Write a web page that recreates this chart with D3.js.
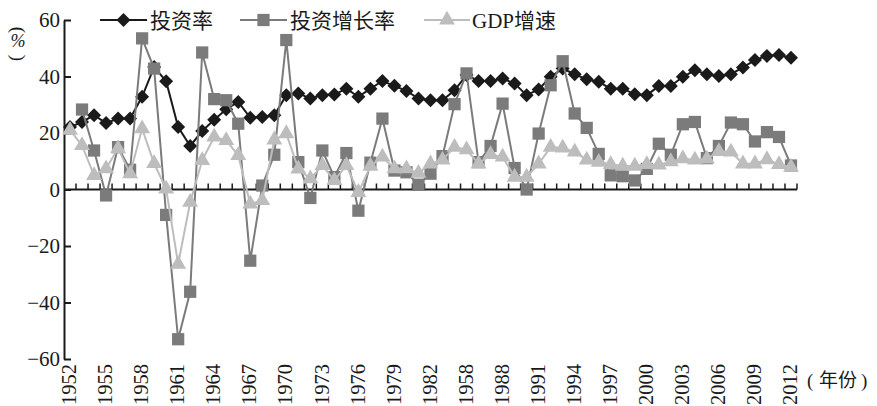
<!DOCTYPE html>
<html>
<head>
<meta charset="utf-8">
<script src="https://cdn.jsdelivr.net/npm/d3@7"></script>
<style>
  html, body { margin: 0; padding: 0; background: #fff; overflow: hidden; }
  svg { display: block; }
  svg text { font-family: "Liberation Serif", "Noto Sans CJK SC", serif; fill: #1a1a1a; }
</style>
</head>
<body>
<div id="chart"></div>
<script>
const YEARS = d3.range(1952, 2013)

// 投资率
const INVEST_RATE = [
  22.1, 23.9, 26.3, 23.5, 25.1, 25.1, 32.8, 43.4, 38.3, 22.1,
  15.4, 20.7, 24.7, 28.4, 31.0, 25.4, 25.7, 26.3, 33.4, 34.0,
  32.2, 33.4, 33.6, 35.7, 32.8, 35.7, 38.4, 36.7, 34.9, 32.2,
  31.6, 31.6, 35.1, 40.5, 38.4, 38.4, 39.3, 37.5, 33.4, 35.4,
  39.9, 42.8, 40.8, 39.0, 38.1, 35.7, 35.7, 33.7, 33.4, 36.6,
  36.6, 39.9, 42.2, 40.8, 40.2, 40.8, 43.2, 45.8, 47.3, 47.6,
  46.6,
]

// 投资增长率 (no value for 1952)
const INVEST_GROWTH = [
  null, 28.3, 13.8, -2.1, 15.0, 7.0, 53.5, 42.8, -9.0, -53.0,
  -36.2, 48.5, 32.0, 31.6, 23.3, -25.2, 1.4, 12.3, 52.9, 9.7,
  -3.0, 13.8, 4.4, 12.9, -7.5, 9.5, 25.1, 6.7, 6.1, 1.7,
  5.6, 11.8, 30.2, 41.1, 9.7, 15.4, 30.4, 7.6, 0.0, 19.8,
  36.9, 45.4, 26.9, 21.8, 12.6, 5.0, 4.7, 3.2, 7.3, 16.2,
  12.3, 23.1, 23.9, 11.1, 15.4, 23.7, 23.1, 17.0, 20.3, 18.6,
  8.5,
]

// GDP增速
const GDP_GROWTH = [
  21.0, 15.6, 5.0, 7.4, 14.5, 5.6, 21.5, 9.2, 0.2, -26.4,
  -4.5, 10.3, 18.6, 17.4, 12.1, -5.1, -3.9, 17.6, 19.8, 7.3,
  3.8, 8.5, 3.2, 8.5, -1.0, 8.3, 11.5, 7.4, 7.4, 5.8,
  9.1, 10.5, 15.0, 14.1, 9.1, 12.4, 11.5, 4.4, 4.4, 9.1,
  15.0, 14.7, 13.3, 10.5, 9.7, 8.9, 8.3, 8.3, 8.9, 8.7,
  9.9, 10.9, 10.5, 10.8, 13.5, 13.3, 9.1, 9.1, 10.6, 8.9,
  7.9,
]

const Y_TICKS = [-60, -40, -20, 0, 20, 40, 60]
const X_LABEL_YEARS = d3.range(1952, 2013, 3)
// the source prints 1958 where 1985 should be
const X_LABELS = X_LABEL_YEARS.map((y) => (y === 1985 ? '1958' : String(y)))

const BLACK = '#1a1a1a'
const DARK = '#7b7b7b'
const LIGHT = '#bdbdbd'

const width = 877
const height = 406
const svg = d3.select('#chart').append('svg')
  .attr('width', width)
  .attr('height', height)

const x = d3.scaleBand().domain(YEARS).range([64, 797])
const y = d3.scaleLinear().domain([-60, 60]).range([359, 20])
const cx = (d) => x(d) + x.bandwidth() / 2

// y axis, ticks point inward
const yAxis = svg.append('g')
  .attr('transform', 'translate(64,0)')
  .call(d3.axisRight(y).tickValues(Y_TICKS).tickSize(7).tickSizeOuter(0).tickFormat(''))
yAxis.select('.domain').attr('stroke', BLACK).attr('stroke-width', 2)
yAxis.selectAll('.tick line').attr('stroke', BLACK).attr('stroke-width', 2)

svg.append('g').selectAll('text')
  .data(Y_TICKS)
  .join('text')
  .attr('x', 60)
  .attr('y', (d) => y(d))
  .attr('dy', '0.35em')
  .attr('text-anchor', 'end')
  .attr('font-size', 21)
  .text((d) => (d < 0 ? `\u2212${-d}` : d))

// x axis at zero, tick marks at band edges pointing up
const edges = YEARS.map((d) => x(d)).concat([x.range()[1]]).slice(1)
svg.append('line')
  .attr('x1', 64).attr('x2', 797)
  .attr('y1', y(0)).attr('y2', y(0))
  .attr('stroke', BLACK).attr('stroke-width', 2.2)
svg.append('g').selectAll('line')
  .data(edges)
  .join('line')
  .attr('x1', (d) => d).attr('x2', (d) => d)
  .attr('y1', y(0)).attr('y2', y(0) - 6)
  .attr('stroke', BLACK).attr('stroke-width', 1.5)

svg.append('g').selectAll('text')
  .data(X_LABEL_YEARS)
  .join('text')
  .attr('transform', (d) => `translate(${cx(d) - 1},364) rotate(-90)`)
  .attr('dy', '0.35em')
  .attr('text-anchor', 'end')
  .attr('font-size', 20.5)
  .text((d, i) => X_LABELS[i])

// x unit label, pieces placed separately
const xUnit = svg.append('g').attr('font-size', 19)
xUnit.append('text').attr('x', 807).attr('y', 387).text('(')
xUnit.append('text').attr('x', 819).attr('y', 387).text('年份')
xUnit.append('text').attr('x', 861).attr('y', 387).text(')')

// vertical unit label
const unit = svg.append('g').attr('transform', 'translate(18,0)')
unit.append('text').attr('transform', 'translate(0,30) rotate(90)')
  .attr('text-anchor', 'middle').attr('dy', '0.3em').attr('font-size', 19).text('(')
unit.append('text').attr('y', 47).attr('text-anchor', 'middle')
  .attr('font-size', 18).attr('font-style', 'italic').text('%')
unit.append('text').attr('transform', 'translate(0,58) rotate(90)')
  .attr('text-anchor', 'middle').attr('dy', '0.3em').attr('font-size', 19).text(')')

const series = [
  { name: '投资率', values: INVEST_RATE, color: BLACK, symbol: d3.symbolSquare, size: 98, rot: 45 },
  { name: '投资增长率', values: INVEST_GROWTH, color: DARK, symbol: d3.symbolSquare, size: 150, rot: 0 },
  { name: 'GDP增速', values: GDP_GROWTH, color: LIGHT, symbol: d3.symbolTriangle, size: 110, rot: 0 },
]

const line = d3.line()
  .defined((d) => d.v != null)
  .x((d) => cx(d.year))
  .y((d) => y(d.v))

series.forEach((s) => {
  const pts = YEARS.map((year, i) => ({ year, v: s.values[i] }))
  const g = svg.append('g')
  g.append('path')
    .datum(pts)
    .attr('d', line)
    .attr('fill', 'none')
    .attr('stroke', s.color)
    .attr('stroke-width', 2)
  g.selectAll('path.mark')
    .data(pts.filter((d) => d.v != null))
    .join('path')
    .attr('class', 'mark')
    .attr('transform', (d) => `translate(${cx(d.year)},${y(d.v)}) rotate(${s.rot})`)
    .attr('d', d3.symbol(s.symbol, s.size))
    .attr('fill', s.color)
})

// legend
const legendItems = [
  { s: series[0], x1: 100, x2: 147, tx: 150 },
  { s: series[1], x1: 240, x2: 287, tx: 290 },
  { s: series[2], x1: 424, x2: 470, tx: 472 },
]
const legend = svg.append('g')
legendItems.forEach((item) => {
  const ly = 20
  legend.append('line')
    .attr('x1', item.x1).attr('x2', item.x2)
    .attr('y1', ly).attr('y2', ly)
    .attr('stroke', item.s.color).attr('stroke-width', 2)
  legend.append('path')
    .attr('transform', `translate(${(item.x1 + item.x2) / 2},${ly}) rotate(${item.s.rot})`)
    .attr('d', d3.symbol(item.s.symbol, item.s.size))
    .attr('fill', item.s.color)
  legend.append('text')
    .attr('x', item.tx).attr('y', ly)
    .attr('dy', '0.36em')
    .attr('font-size', 21)
    .text(item.s.name)
})
</script>
</body>
</html>
